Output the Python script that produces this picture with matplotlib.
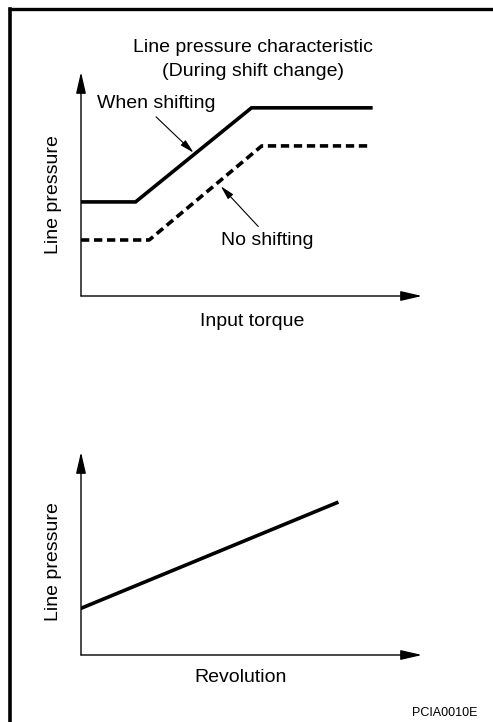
import matplotlib
matplotlib.use("Agg")
import matplotlib.pyplot as plt
from matplotlib.lines import Line2D

plt.rcParams['font.family'] = ['Liberation Sans', 'DejaVu Sans']

# --- data (arbitrary units) ---
torque_shift = [0.0, 1.6, 5.0, 8.5]
press_shift = [4.2, 4.2, 8.4, 8.4]
torque_noshift = [0.0, 2.0, 5.3, 8.5]
press_noshift = [2.5, 2.5, 6.7, 6.7]
rev = [0.0, 7.5]
press_rev = [2.3, 7.5]

FS = 14

fig = plt.figure(figsize=(4.93, 7.22), dpi=100)

# frame (top and left edge of the sheet)
fig.add_artist(Line2D([10/493, 10/493], [0, 1 - 8.5/722], transform=fig.transFigure,
                      color='black', lw=2.6, solid_capstyle='projecting'))
fig.add_artist(Line2D([10/493, 1], [1 - 8.5/722, 1 - 8.5/722], transform=fig.transFigure,
                      color='black', lw=2.4, solid_capstyle='projecting'))


def bare_axes(rect):
    ax = fig.add_axes(rect)
    ax.set_xlim(0, 10)
    ax.set_ylim(0, 10)
    for s in ax.spines.values():
        s.set_visible(False)
    ax.set_xticks([])
    ax.set_yticks([])
    ax.patch.set_alpha(0)
    arrow = dict(arrowstyle='-|>,head_length=0.65,head_width=0.15', color='black', lw=1.0,
                 mutation_scale=20, shrinkA=0, shrinkB=0)
    ax.annotate('', xy=(1, 0), xytext=(0, 0), xycoords='axes fraction', arrowprops=arrow)
    ax.annotate('', xy=(0, 1), xytext=(0, 0), xycoords='axes fraction', arrowprops=arrow)
    return ax


# top chart
ax1 = bare_axes([81/493, 1 - 296/722, 341/493, 224/722])
ax1.plot(torque_shift, press_shift, color='black', lw=2.6, solid_joinstyle='miter')
ax1.plot(torque_noshift, press_noshift, color='black', lw=2.6, linestyle=(0, (2.3, 1.3)))
fig.text(253/493, 1 - 48/722, 'Line pressure characteristic', ha='center', va='center', fontsize=FS)
fig.text(253/493, 1 - 72/722, '(During shift change)', ha='center', va='center', fontsize=FS)
fig.text(53/493, 1 - 195/722, 'Line pressure', ha='center', va='center', rotation=90, fontsize=FS)
fig.text(252/493, 1 - 322/722, 'Input torque', ha='center', va='center', fontsize=FS)

thin = dict(arrowstyle='-|>,head_length=0.6,head_width=0.15', color='black', lw=0.8,
            mutation_scale=14, shrinkA=0, shrinkB=0)
ax1.text(2.2, 8.6, 'When shifting', ha='center', va='center', fontsize=FS)
ax1.annotate('', xy=(3.3, 6.4), xytext=(2.2, 8.0), arrowprops=thin)
ax1.text(5.45, 2.5, 'No shifting', ha='center', va='center', fontsize=FS)
ax1.annotate('', xy=(4.1, 4.9), xytext=(5.2, 3.1), arrowprops=thin)

# bottom chart
ax2 = bare_axes([81/493, 1 - 655/722, 341/493, 203/722])
ax2.plot(rev, press_rev, color='black', lw=2.6)
fig.text(53/493, 1 - 562/722, 'Line pressure', ha='center', va='center', rotation=90, fontsize=FS)
fig.text(241/493, 1 - 678/722, 'Revolution', ha='center', va='center', fontsize=FS)
fig.text(477/493, 1 - 713/722, 'PCIA0010E', ha='right', va='center', fontsize=9)

fig.savefig('out.png', dpi=100)
